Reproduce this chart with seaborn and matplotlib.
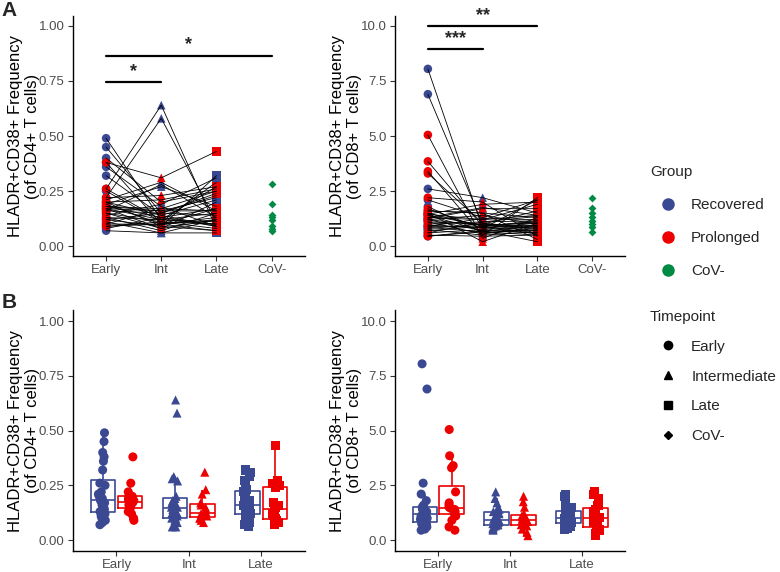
import pandas as pd
import matplotlib.pyplot as plt
from matplotlib.lines import Line2D
import seaborn as sns

# Categorias e ordem dos tempos
timepoints = ["Early", "Int", "Late"]
x_order = ["Early", "Int", "Late", "CoV-"]
groups = ["Recovered", "Prolonged"]

# CD4 - pacientes recuperados (Early, Int, Late por paciente)
cd4_rec_early = [0.49, 0.45, 0.40, 0.38, 0.36, 0.32, 0.26, 0.25, 0.22, 0.21, 0.20, 0.19,
                 0.18, 0.17, 0.16, 0.15, 0.14, 0.13, 0.12, 0.11, 0.10, 0.09, 0.08, 0.07]
cd4_rec_int = [0.12, 0.15, 0.20, 0.10, 0.18, 0.14, 0.64, 0.11, 0.58, 0.29, 0.09, 0.27,
               0.16, 0.12, 0.28, 0.08, 0.19, 0.07, 0.15, 0.06, 0.17, 0.10, 0.13, 0.06]
cd4_rec_late = [0.10, 0.14, 0.25, 0.12, 0.09, 0.21, 0.08, 0.29, 0.11, 0.16, 0.32, 0.18,
                0.22, 0.27, 0.13, 0.20, 0.31, 0.15, 0.23, 0.12, 0.16, 0.07, 0.17, 0.06]

# CD4 - pacientes prolongados
cd4_pro_early = [0.38, 0.26, 0.22, 0.20, 0.20, 0.19, 0.18, 0.18, 0.17, 0.17, 0.16, 0.15,
                 0.13, 0.12, 0.10, 0.09]
cd4_pro_int = [0.31, 0.12, 0.23, 0.14, 0.21, 0.10, 0.17, 0.13, 0.16, 0.08, 0.15, 0.11,
               0.12, 0.09, 0.10, 0.11]
cd4_pro_late = [0.43, 0.15, 0.27, 0.09, 0.26, 0.13, 0.25, 0.09, 0.16, 0.12, 0.24, 0.08,
                0.11, 0.07, 0.17, 0.10]

# CD8 - pacientes recuperados
cd8_rec_early = [8.05, 6.90, 2.60, 2.10, 1.80, 1.60, 1.50, 1.45, 1.40, 1.30, 1.25, 1.20,
                 1.20, 1.10, 1.00, 0.95, 0.90, 0.85, 0.80, 0.75, 0.70, 0.60, 0.50, 0.45]
cd8_rec_int = [0.80, 1.00, 2.20, 1.30, 0.60, 1.50, 0.90, 1.90, 0.70, 1.20, 1.70, 0.95,
               1.40, 0.55, 1.10, 0.85, 1.25, 0.65, 1.00, 0.50, 0.90, 0.75, 0.45, 0.70]
cd8_rec_late = [1.05, 0.90, 1.50, 2.10, 0.75, 1.30, 1.15, 2.00, 0.60, 1.40, 1.70, 1.05,
                1.00, 0.85, 1.35, 0.55, 1.20, 0.95, 0.80, 0.65, 1.10, 0.90, 0.50, 0.70]

# CD8 - pacientes prolongados
cd8_pro_early = [5.05, 3.85, 3.40, 3.30, 2.20, 1.70, 1.60, 1.50, 1.45, 1.40, 1.30, 1.20,
                 1.10, 0.90, 0.60, 0.45]
cd8_pro_int = [0.35, 0.90, 0.50, 1.05, 2.00, 0.80, 1.50, 0.20, 1.20, 0.95, 1.75, 0.70,
               1.00, 0.85, 1.10, 0.65]
cd8_pro_late = [1.30, 0.60, 2.20, 0.80, 0.45, 2.10, 0.30, 1.05, 1.90, 0.70, 1.40, 0.20,
                1.60, 0.95, 1.15, 0.50]

# Controles CoV-
cd4_neg = [0.28, 0.19, 0.14, 0.13, 0.12, 0.09, 0.08, 0.07]
cd8_neg = [2.20, 1.75, 1.50, 1.30, 1.15, 1.00, 0.85, 0.65]

# Barras de significância: (inicio, fim, altura, texto)
sig_cd4 = [("Early", "Int", 0.745, "*"), ("Early", "CoV-", 0.865, "*")]
sig_cd8 = [("Early", "Int", 8.95, "***"), ("Early", "Late", 10.0, "**")]

palette = {"Recovered": "#3B4992", "Prolonged": "#EE0000", "CoV-": "#008B45"}
markers = {"Early": "o", "Int": "^", "Late": "s", "CoV-": "D"}

# Monta o DataFrame longo
rows = []
series = {
    "Recovered": (cd4_rec_early, cd4_rec_int, cd4_rec_late, cd8_rec_early, cd8_rec_int, cd8_rec_late),
    "Prolonged": (cd4_pro_early, cd4_pro_int, cd4_pro_late, cd8_pro_early, cd8_pro_int, cd8_pro_late),
}
for grp, vals in series.items():
    for i in range(len(vals[0])):
        for j, tp in enumerate(timepoints):
            rows.append({"patient": f"{grp}_{i}", "group": grp, "timepoint": tp,
                         "cd4": vals[j][i], "cd8": vals[3 + j][i]})
pat = pd.DataFrame(rows)
neg = pd.DataFrame({"group": "CoV-", "timepoint": "CoV-", "cd4": cd4_neg, "cd8": cd8_neg})
pat["xpos"] = pat["timepoint"].map(x_order.index)
neg["xpos"] = neg["timepoint"].map(x_order.index)

sns.set_style("ticks")
plt.rcParams["font.family"] = ["Liberation Sans", "DejaVu Sans"]

fig = plt.figure(figsize=(7.8, 5.72), dpi=100)
ax_tl = fig.add_axes([0.0936, 0.5524, 0.297, 0.4196])
ax_tr = fig.add_axes([0.5064, 0.5524, 0.295, 0.4196])
ax_bl = fig.add_axes([0.0936, 0.0367, 0.297, 0.421])
ax_br = fig.add_axes([0.5064, 0.0367, 0.295, 0.421])

ylabels = {"cd4": "HLADR+CD38+ Frequency\n(of CD4+ T cells)",
           "cd8": "HLADR+CD38+ Frequency\n(of CD8+ T cells)"}
yticks = {"cd4": [0, 0.25, 0.5, 0.75, 1.0], "cd8": [0, 2.5, 5.0, 7.5, 10.0]}
yfmt = {"cd4": "{:.2f}", "cd8": "{:.1f}"}


def style_axis(ax, var):
    ax.set_yticks(yticks[var])
    ax.set_yticklabels([yfmt[var].format(t) for t in yticks[var]])
    ax.set_ylabel(ylabels[var], fontsize=12, color="black", labelpad=-1)
    ax.set_xlabel("")
    ax.tick_params(axis="both", labelsize=9.5, labelcolor="#4D4D4D", color="#333333",
                   length=3.5, width=0.8, pad=2.5)
    for s in ["left", "bottom"]:
        ax.spines[s].set_linewidth(1.0)
        ax.spines[s].set_color("black")
    sns.despine(ax=ax)


# Painel A: pontos pareados ligados por linhas
for ax, var, sigs in [(ax_tl, "cd4", sig_cd4), (ax_tr, "cd8", sig_cd8)]:
    sns.scatterplot(data=pat, x="xpos", y=var, hue="group", style="timepoint",
                    palette=palette, markers=markers, s=38, linewidth=0,
                    legend=False, ax=ax, zorder=2)
    sns.scatterplot(data=neg, x="xpos", y=var, color=palette["CoV-"], marker="D",
                    s=16, linewidth=0, legend=False, ax=ax, zorder=2)
    sns.lineplot(data=pat, x="xpos", y=var, units="patient", estimator=None,
                 color="black", linewidth=0.6, sort=False, legend=False, ax=ax, zorder=3)
    top = yticks[var][-1]
    for a, b, h, txt in sigs:
        xa, xb = x_order.index(a), x_order.index(b)
        ax.plot([xa, xb], [h, h], color="black", linewidth=1.6, clip_on=False)
        ax.text((xa + xb) / 2, h + 0.01 * top, txt, ha="center", va="bottom",
                fontsize=13, fontweight="bold", clip_on=False)
    ax.set_xticks(range(len(x_order)))
    ax.set_xticklabels(x_order)
    ax.set_xlim(-0.6, 3.6)
    ax.set_ylim(-0.045 * top, 1.045 * top)
    style_axis(ax, var)

# Painel B: boxplots por grupo com pontos
for ax, var in [(ax_bl, "cd4"), (ax_br, "cd8")]:
    sns.boxplot(data=pat, x="timepoint", y=var, hue="group", order=timepoints,
                hue_order=groups, palette=palette, fill=False, showfliers=False,
                showcaps=False, width=0.75, gap=0.1, linewidth=1.2, legend=False, ax=ax)
    for tp in timepoints:
        sns.stripplot(data=pat[pat["timepoint"] == tp], x="timepoint", y=var, hue="group",
                      order=timepoints, hue_order=groups, palette=palette, dodge=True,
                      jitter=0.1, marker=markers[tp], size=6.5, linewidth=0,
                      legend=False, ax=ax, zorder=3)
    top = yticks[var][-1]
    ax.set_xlim(-0.6, 2.6)
    ax.set_ylim(-0.05 * top, 1.05 * top)
    style_axis(ax, var)

# Legendas
group_handles = [Line2D([], [], marker="o", ls="", color=palette[g], markersize=8)
                 for g in ["Recovered", "Prolonged", "CoV-"]]
fig.legend(group_handles, ["Recovered", "Prolonged", "CoV-"], title="Group",
           loc="upper left", bbox_to_anchor=(0.8157, 0.7355), frameon=False,
           fontsize=11, title_fontsize=11, alignment="left", labelspacing=1.25,
           handlelength=2.3, handletextpad=0.4)
tp_labels = ["Early", "Intermediate", "Late", "CoV-"]
tp_handles = [Line2D([], [], marker=markers[k], ls="", color="black",
                     markersize=6 if k != "CoV-" else 4.5) for k in x_order]
fig.legend(tp_handles, tp_labels, title="Timepoint", loc="upper left",
           bbox_to_anchor=(0.8157, 0.482), frameon=False, fontsize=11,
           title_fontsize=11, alignment="left", labelspacing=1.03,
           handlelength=2.3, handletextpad=0.4)

fig.text(0.002, 0.998, "A", fontsize=15, fontweight="bold", va="top")
fig.text(0.002, 0.488, "B", fontsize=15, fontweight="bold", va="top")

fig.savefig("out.png", dpi=100)
